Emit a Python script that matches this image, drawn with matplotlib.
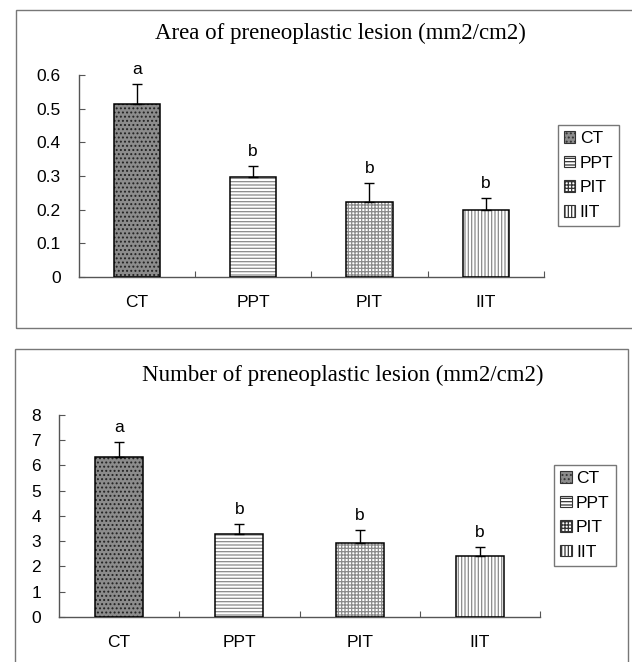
import matplotlib
matplotlib.use("Agg")
import matplotlib.pyplot as plt
from matplotlib.patches import Rectangle, Patch

# ---- data ----
groups = ["CT", "PPT", "PIT", "IIT"]
letters = ["a", "b", "b", "b"]

area_mean = [0.513, 0.298, 0.224, 0.198]
area_err = [0.061, 0.033, 0.056, 0.037]

number_mean = [6.35, 3.29, 2.91, 2.42]
number_err = [0.59, 0.38, 0.53, 0.33]

hatches = ["....", "-----", "+++++", "|||||"]
faces = ["#8c8c8c", "white", "white", "white"]

plt.rcParams["font.family"] = ["Liberation Sans", "DejaVu Sans"]
plt.rcParams["hatch.linewidth"] = 0.9

fig = plt.figure(figsize=(6.32, 6.62), dpi=100)

# panel frames (gray boxes around each chart)
fig.patches.append(Rectangle((0.0253, 0.5045), 1.0, 0.4805, transform=fig.transFigure,
                             fill=False, edgecolor="#777777", linewidth=1.0))
fig.patches.append(Rectangle((0.0237, -0.05), 0.97, 0.5228, transform=fig.transFigure,
                             fill=False, edgecolor="#777777", linewidth=1.0))

FS = 12.5


def draw_panel(rect, means, errs, ymax, yticks, ylabels, title, title_xy, leg_xy, let_off):
    ax = fig.add_axes(rect)
    x = [i + 0.5 for i in range(len(groups))]
    # hatched fill (gray hatch lines) then black outline on top
    for xi, m, h, fc in zip(x, means, hatches, faces):
        ax.bar(xi, m, width=0.4, color=fc, hatch=h, edgecolor="#8a8a8a" if fc == "white" else "#222222",
               linewidth=0, zorder=2)
        ax.bar(xi, m, width=0.4, fill=False, edgecolor="black", linewidth=1.1, zorder=3)
    ax.errorbar(x, means, yerr=[[0] * len(errs), errs], fmt="none", ecolor="black",
                elinewidth=1.0, capsize=3.6, capthick=1.0, zorder=4)
    for xi, m, e, t in zip(x, means, errs, letters):
        ax.annotate(t, (xi, m + e), xytext=(0, let_off), textcoords="offset points",
                    ha="center", va="bottom", fontsize=FS)

    ax.set_xlim(0, 4)
    ax.set_ylim(0, ymax)
    ax.set_yticks(yticks)
    ax.set_yticklabels(ylabels)
    ax.set_xticks([1, 2, 3, 4])
    ax.set_xticklabels([])
    ax.set_xticks(x, minor=True)
    ax.set_xticklabels(groups, minor=True)
    ax.tick_params(axis="x", which="major", direction="in", length=4, color="#555555")
    ax.tick_params(axis="x", which="minor", length=0, pad=13, labelsize=FS)
    ax.tick_params(axis="y", direction="in", length=4, color="#555555", pad=13, labelsize=FS)
    for s in ["top", "right"]:
        ax.spines[s].set_visible(False)
    for s in ["left", "bottom"]:
        ax.spines[s].set_color("#555555")
        ax.spines[s].set_linewidth(1.0)
    ax.patch.set_alpha(0)

    fig.text(title_xy[0], title_xy[1], title, ha="center", va="center",
             fontsize=16.5, family="Liberation Serif")

    handles = []
    for h, fc in zip(hatches, faces):
        handles.append(Patch(facecolor=fc, hatch=h, edgecolor="#333333", linewidth=0.8))
    leg = fig.legend(handles, groups, loc="upper left", bbox_to_anchor=leg_xy,
                     bbox_transform=fig.transFigure, frameon=True, fancybox=False,
                     fontsize=FS, handlelength=0.65, handleheight=0.65,
                     handletextpad=0.25, labelspacing=0.55, borderpad=0.35,
                     borderaxespad=0)
    leg.get_frame().set_edgecolor("#555555")
    leg.get_frame().set_linewidth(1.0)
    return ax


draw_panel([0.1244, 0.5816, 0.7364, 0.3051], area_mean, area_err, 0.6,
           [0, 0.1, 0.2, 0.3, 0.4, 0.5, 0.6], ["0", "0.1", "0.2", "0.3", "0.4", "0.5", "0.6"],
           "Area of preneoplastic lesion (mm2/cm2)", (0.538, 0.950), (0.883, 0.811), 5)

draw_panel([0.0934, 0.0684, 0.7611, 0.3047], number_mean, number_err, 8,
           list(range(9)), [str(i) for i in range(9)],
           "Number of preneoplastic lesion (mm2/cm2)", (0.543, 0.433), (0.877, 0.2976), 5)

fig.savefig("out.png", dpi=100)
